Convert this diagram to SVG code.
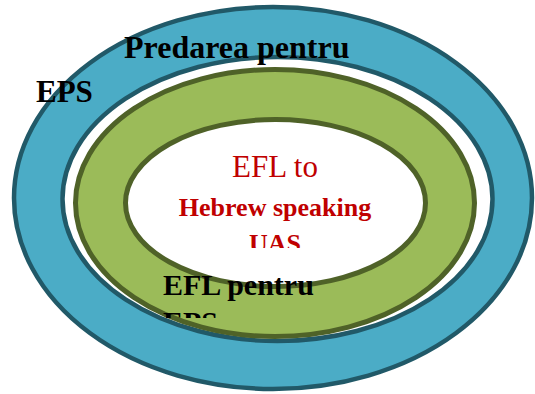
<svg xmlns="http://www.w3.org/2000/svg" width="535" height="394" viewBox="0 0 535 394">
<defs>
<style>
.blue{fill:#4BACC6;stroke:#215968;stroke-width:4.5}
.gap{fill:#FFFFFF;stroke:#215968;stroke-width:4.5}
.green{fill:#9BBB59;stroke:#4F6228;stroke-width:5}
.core{fill:#FFFFFF;stroke:#4F6228;stroke-width:5}
.lbl{font-family:"Liberation Serif","Times New Roman",serif;font-weight:bold;fill:#000000}
.red{font-family:"Liberation Serif","Times New Roman",serif;fill:#C00000}
</style>
<clipPath id="clipInner"><rect x="150" y="140" width="250" height="108"/></clipPath>
<clipPath id="clipMid"><rect x="140" y="260" width="220" height="58"/></clipPath>
</defs>
<rect width="535" height="394" fill="#FFFFFF"/>
<g id="outer">
<ellipse class="blue" cx="273" cy="198" rx="259" ry="191"/>
<ellipse class="gap" cx="277.5" cy="199" rx="215" ry="142"/>
<text class="lbl" x="36" y="102" font-size="31">EPS</text>
<text class="lbl" x="124" y="58" font-size="32">Predarea pentru</text>
</g>
<g id="middle">
<ellipse class="green" cx="275" cy="203" rx="199.5" ry="133.5"/>
</g>
<g id="inner">
<ellipse class="core" cx="275.5" cy="203" rx="150" ry="83.5"/>
<g clip-path="url(#clipInner)">
<text class="red" x="275" y="177" font-size="31" text-anchor="middle">EFL to</text>
<text class="red" x="275" y="216" font-size="26" font-weight="bold" text-anchor="middle">Hebrew speaking</text>
<text class="red" x="275" y="252" font-size="26" font-weight="bold" text-anchor="middle">UAS</text>
</g>
</g>
<g id="middle-label" clip-path="url(#clipMid)">
<text class="lbl" x="163" y="295" font-size="30">EFL pentru</text>
<text class="lbl" x="163" y="332" font-size="30">EPS</text>
</g>
<g id="connectors"/>
</svg>
